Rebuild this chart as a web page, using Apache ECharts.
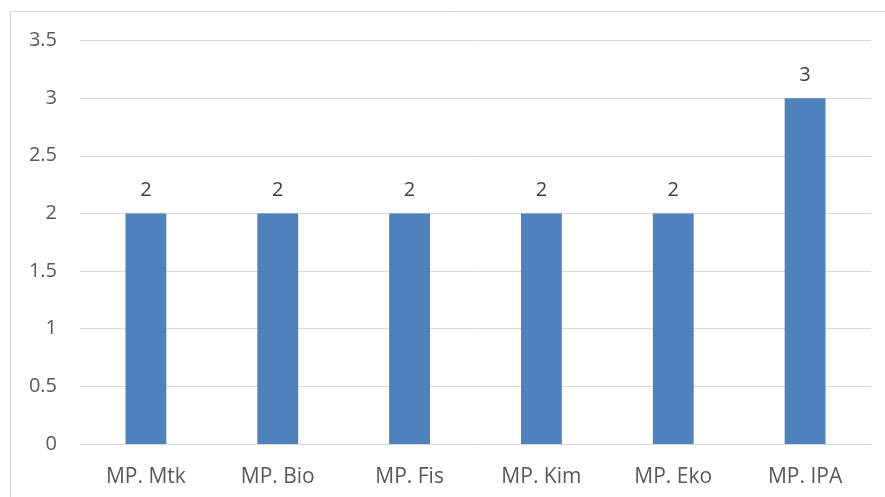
<!DOCTYPE html>
<html><head><meta charset="utf-8">
<script src="https://cdn.jsdelivr.net/npm/echarts@6/dist/echarts.min.js"></script>
<style>html,body{margin:0;padding:0;background:#fff}#c{width:885px;height:497px}</style>
</head><body><div id="c"></div>
<script>
const categories = ['MP. Mtk', 'MP. Bio', 'MP. Fis', 'MP. Kim', 'MP. Eko', 'MP. IPA'];
const values = [2, 2, 2, 2, 2, 3];
const yTicks = [0, 0.5, 1, 1.5, 2, 2.5, 3, 3.5];

const chart = echarts.init(document.getElementById('c'));
const font = '"Open Sans", Lato, sans-serif';
chart.setOption({
  animation: false,
  graphic: [{
    type: 'rect', shape: {x: 10.5, y: 11.5, width: 900, height: 600},
    style: {fill: 'none', stroke: '#d9d9d9', lineWidth: 1}, silent: true
  }],
  grid: {left: 80, right: 14, top: 40.5, bottom: 53, containLabel: false},
  xAxis: {
    type: 'category', data: categories,
    axisLine: {show: true, lineStyle: {color: '#d9d9d9', width: 1}},
    axisTick: {show: false},
    axisLabel: {color: '#595959', fontSize: 21, fontFamily: font, margin: 23}
  },
  yAxis: {
    type: 'value', min: yTicks[0], max: yTicks[yTicks.length - 1], interval: 0.5,
    axisLine: {show: false}, axisTick: {show: false},
    splitLine: {lineStyle: {color: '#d9d9d9', width: 1}},
    axisLabel: {color: '#595959', fontSize: 20, fontFamily: font, margin: 23,
      formatter: v => String(v)}
  },
  series: [{
    type: 'bar', data: values, barWidth: '31%',
    itemStyle: {color: '#4f81bd'},
    label: {show: true, position: 'top', distance: 13, color: '#404040', fontSize: 20, fontFamily: font}
  }]
});
</script></body></html>
